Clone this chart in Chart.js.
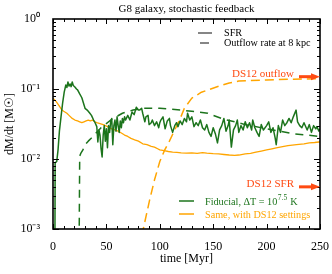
<!DOCTYPE html>
<html>
<head>
<meta charset="utf-8">
<script src="https://cdn.jsdelivr.net/npm/chart.js@4.4.1/dist/chart.umd.min.js"></script>
<style>
  html, body { margin: 0; padding: 0; background: #fff; }
</style>
</head>
<body>
<canvas id="massChart" width="332" height="274"></canvas>
<script>
// fiducial run, star formation rate
var sfrTime = [0, 1.8, 2.0, 3.5, 4.7, 6, 7.5, 9, 10.5, 12, 13, 14, 15, 16, 17, 18, 19, 20.5, 22, 23,
  25, 27, 28.5, 30, 32, 34.5, 36, 38, 39, 41, 42, 43, 44, 45, 46, 47, 48, 49, 50, 51,
  52, 53, 54, 55, 56, 57, 58, 59, 60, 61, 62, 63, 64, 65, 66, 67, 68, 70, 72, 74,
  76, 78, 80, 81, 83, 84, 86, 87, 89, 90, 92, 93, 95, 97, 99, 100, 101, 103, 105, 107,
  109, 110, 112, 114, 115.7, 117, 119, 121, 123, 125, 126, 128, 130, 132, 134, 136, 138, 140, 142, 144,
  146, 148, 150, 152, 154, 156, 158, 160, 162, 164, 165, 167, 169, 171, 172.6, 174, 176, 178, 180, 182,
  184, 186, 187, 189, 191, 193, 195, 197, 200, 202, 204, 206, 208, 209, 211, 213, 215, 217, 219, 221,
  223, 225, 227.6, 229, 231, 233, 235, 238, 240, 242, 244, 246, 247, 249, 250];
var sfrFiducial = [0.0005, 0.0005, 0.0088, 0.0092, 0.0134, 0.025, 0.04, 0.063, 0.09, 0.114, 0.105, 0.126, 0.11, 0.118, 0.108, 0.126, 0.112, 0.107, 0.1, 0.097,
  0.085, 0.075, 0.063, 0.053, 0.05, 0.045, 0.042, 0.036, 0.034, 0.029, 0.0175, 0.026, 0.022, 0.014, 0.0107, 0.022, 0.03, 0.018, 0.027, 0.0145,
  0.03, 0.024, 0.034, 0.038, 0.016, 0.03, 0.036, 0.025, 0.04, 0.03, 0.024, 0.035, 0.028, 0.038, 0.033, 0.04, 0.036, 0.042, 0.036, 0.047,
  0.043, 0.055, 0.05, 0.05, 0.053, 0.045, 0.034, 0.04, 0.042, 0.031, 0.033, 0.036, 0.03, 0.034, 0.028, 0.033, 0.036, 0.04, 0.027, 0.035,
  0.038, 0.03, 0.024, 0.03, 0.033, 0.029, 0.035, 0.031, 0.038, 0.034, 0.045, 0.036, 0.04, 0.029, 0.033, 0.03, 0.036, 0.028, 0.026, 0.031,
  0.024, 0.021, 0.028, 0.023, 0.017, 0.026, 0.03, 0.038, 0.025, 0.03, 0.036, 0.0148, 0.026, 0.03, 0.036, 0.024, 0.03, 0.026, 0.034, 0.028,
  0.033, 0.026, 0.036, 0.028, 0.024, 0.021, 0.031, 0.026, 0.03, 0.034, 0.024, 0.028, 0.02, 0.016, 0.03, 0.024, 0.036, 0.03, 0.033, 0.038,
  0.033, 0.04, 0.05, 0.034, 0.03, 0.028, 0.033, 0.026, 0.031, 0.024, 0.03, 0.027, 0.029, 0.025, 0.027];

// fiducial run, outflow rate at 8 kpc
var outTime = [24.5, 25, 26, 28, 30, 33, 36, 45, 55, 65, 75, 85, 100, 120, 130, 145, 150, 160, 170, 180, 200, 225, 250];
var outFiducial = [0.0007, 0.011, 0.012, 0.0135, 0.016, 0.018, 0.02, 0.028, 0.037, 0.045, 0.05, 0.053, 0.053, 0.05, 0.048, 0.045, 0.042, 0.037, 0.034, 0.031, 0.027, 0.023, 0.021];

// DS12 settings, star formation rate
var ds12Time = [0, 3, 5, 8.4, 10, 13, 15, 18, 20.5, 23, 25, 27, 29, 31, 33, 35, 37, 39, 41, 44,
  47, 51, 55, 58, 61, 64, 67, 70, 73, 76.5, 80, 84, 88, 92, 95, 98, 100, 104, 108, 112,
  116, 120, 125, 130, 135, 140, 144, 150, 155, 160, 165, 170, 174, 180, 185, 190, 195, 200, 205, 209,
  215, 220, 228, 235, 240, 245, 249, 250];
var sfrDs12 = [0.074, 0.066, 0.06, 0.05, 0.048, 0.045, 0.042, 0.038, 0.036, 0.035, 0.034, 0.033, 0.034, 0.035, 0.036, 0.035, 0.036, 0.034, 0.033, 0.032,
  0.031, 0.029, 0.027, 0.026, 0.025, 0.0235, 0.022, 0.021, 0.0197, 0.0188, 0.018, 0.0165, 0.016, 0.0152, 0.0148, 0.014, 0.0135, 0.0132, 0.0128, 0.0125,
  0.0124, 0.0122, 0.0121, 0.0122, 0.012, 0.0123, 0.0121, 0.0119, 0.0118, 0.0116, 0.0114, 0.0113, 0.0114, 0.0118, 0.012, 0.0125, 0.013, 0.0135, 0.014, 0.0144,
  0.015, 0.0155, 0.016, 0.0165, 0.017, 0.0172, 0.0175, 0.0175];

// DS12 settings, outflow rate
var ds12OutTime = [84, 84.5, 90.5, 95, 100, 104.5, 109, 114, 118.5, 123, 130, 139, 153, 165, 174, 200, 225, 250];
var outDs12 = [0.0008, 0.001, 0.0026, 0.005, 0.0092, 0.0134, 0.018, 0.026, 0.036, 0.053, 0.074, 0.09, 0.107, 0.122, 0.13, 0.135, 0.138, 0.14];

var yDecades = [0.001, 0.01, 0.1, 1];
var yDecadeLabels = ['10\u207B\u00B3', '10\u207B\u00B2', '10\u207B\u00B9', '10\u2070'];
var ds12Levels = [0.15, 0.004];
var ds12Labels = ['DS12 outflow', 'DS12 SFR'];

var green = '#1c741c';
var orange = '#ffa500';
var red = '#ff4a12';
var serif = "'Liberation Serif', 'Times New Roman', serif";

function pts(xs, ys) {
  return xs.map(function (x, i) { return { x: x, y: ys[i] }; });
}

var decorations = {
  id: 'decorations',
  afterDatasetsDraw: function (chart) {
    var ctx = chart.ctx, a = chart.chartArea;
    var xs = chart.scales.x, ys = chart.scales.y;
    ctx.save();
    ctx.strokeStyle = '#000';
    ctx.lineWidth = 1;
    ctx.beginPath();
    for (var t = 0; t <= 250; t += 10) {
      var px = Math.round(xs.getPixelForValue(t)) + 0.5;
      var len = t % 50 === 0 ? 5 : 3;
      ctx.moveTo(px, a.bottom); ctx.lineTo(px, a.bottom - len);
      ctx.moveTo(px, a.top); ctx.lineTo(px, a.top + len);
    }
    for (var e = -3; e < 0; e++) {
      for (var m = 1; m < 10; m++) {
        var py = Math.round(ys.getPixelForValue(m * Math.pow(10, e))) + 0.5;
        var l = m === 1 ? 6 : 3;
        ctx.moveTo(a.left, py); ctx.lineTo(a.left + l, py);
        ctx.moveTo(a.right, py); ctx.lineTo(a.right - l, py);
      }
    }
    ctx.stroke();
    ctx.lineWidth = 1.6;
    ctx.strokeRect(a.left, a.top, a.right - a.left, a.bottom - a.top);

    // title
    ctx.fillStyle = '#000';
    ctx.font = '11px ' + serif;
    ctx.textAlign = 'center';
    ctx.textBaseline = 'middle';
    ctx.fillText('G8 galaxy, stochastic feedback', (a.left + a.right) / 2, 9);

    // upper legend (line styles)
    var legFont = '10.2px ' + serif;
    ctx.font = legFont;
    ctx.textAlign = 'left';
    ctx.strokeStyle = '#444';
    ctx.lineWidth = 1.3;
    ctx.beginPath(); ctx.moveTo(198, 33); ctx.lineTo(212, 33); ctx.stroke();
    ctx.beginPath(); ctx.moveTo(200, 43); ctx.lineTo(209, 43); ctx.stroke();
    ctx.fillText('SFR', 224, 33);
    ctx.fillText('Outflow rate at 8 kpc', 224, 43);

    // lower legend (runs)
    ctx.lineWidth = 1.5;
    ctx.strokeStyle = green;
    ctx.beginPath(); ctx.moveTo(179, 201); ctx.lineTo(194, 201); ctx.stroke();
    ctx.strokeStyle = orange;
    ctx.beginPath(); ctx.moveTo(179, 214); ctx.lineTo(194, 214); ctx.stroke();
    ctx.fillStyle = green;
    var x0 = 205;
    var s1 = 'Fiducial, \u0394T = 10';
    ctx.fillText(s1, x0, 202);
    var w1 = ctx.measureText(s1).width;
    ctx.font = '7.5px ' + serif;
    ctx.fillText('7.5', x0 + w1 + 0.5, 198);
    var w2 = ctx.measureText('7.5').width;
    ctx.font = legFont;
    ctx.fillText(' K', x0 + w1 + w2 + 1, 202);
    ctx.fillStyle = orange;
    ctx.fillText('Same, with DS12 settings', x0, 215);

    // DS12 reference levels
    ctx.fillStyle = red;
    ctx.strokeStyle = red;
    ds12Levels.forEach(function (v, i) {
      var py = ys.getPixelForValue(v);
      ctx.textAlign = 'right';
      ctx.font = '11px ' + serif;
      ctx.fillText(ds12Labels[i], 294, py - 3);
      ctx.lineWidth = 3;
      ctx.beginPath(); ctx.moveTo(299, py); ctx.lineTo(313, py); ctx.stroke();
      ctx.beginPath();
      ctx.moveTo(a.right, py); ctx.lineTo(311, py - 3.5); ctx.lineTo(311, py + 3.5);
      ctx.closePath(); ctx.fill();
    });
    ctx.restore();
  }
};

Chart.defaults.font.family = serif;
Chart.defaults.color = '#000';

var ctx = document.getElementById('massChart').getContext('2d');
var chart = new Chart(ctx, {
  type: 'line',
  data: {
    datasets: [{
      label: 'SFR fiducial',
      data: pts(sfrTime, sfrFiducial),
      borderColor: green,
      borderWidth: 1.5
    }, {
      label: 'Outflow fiducial',
      data: pts(outTime, outFiducial),
      borderColor: green,
      borderWidth: 1.5,
      borderDash: [8, 6]
    }, {
      label: 'SFR DS12',
      data: pts(ds12Time, sfrDs12),
      borderColor: orange,
      borderWidth: 1.3
    }, {
      label: 'Outflow DS12',
      data: pts(ds12OutTime, outDs12),
      borderColor: orange,
      borderWidth: 1.5,
      borderDash: [9, 5]
    }]
  },
  options: {
    responsive: false,
    animation: false,
    layout: { padding: { top: 19, right: 11, left: 0, bottom: 0 } },
    elements: {
      point: { radius: 0 },
      line: { tension: 0, fill: false, borderJoinStyle: 'round' }
    },
    plugins: {
      legend: { display: false },
      tooltip: { enabled: false }
    },
    scales: {
      x: {
        type: 'linear',
        min: 0,
        max: 250,
        grid: { display: false },
        border: { display: false },
        ticks: { stepSize: 50, font: { size: 12 }, padding: 3, color: '#000', maxRotation: 0 },
        title: { display: true, text: 'time [Myr]', font: { size: 12 }, padding: { top: 0, bottom: 8 }, color: '#000' },
        afterFit: function (s) { s.height = 45; }
      },
      y: {
        type: 'logarithmic',
        min: 0.001,
        max: 1,
        grid: { display: false },
        border: { display: false },
        ticks: {
          autoSkip: false,
          font: { size: 12 },
          padding: 5,
          color: '#000',
          callback: function (v) {
            for (var i = 0; i < yDecades.length; i++) {
              if (Math.abs(Math.log10(v) - Math.log10(yDecades[i])) < 1e-6) return yDecadeLabels[i];
            }
            return '';
          }
        },
        title: { display: true, text: 'dM/dt [M\u2609]', font: { size: 12 }, padding: { top: 3, bottom: 0 }, color: '#000' },
        afterFit: function (s) { s.width = 53; }
      }
    }
  },
  plugins: [decorations]
});
</script>
</body>
</html>
